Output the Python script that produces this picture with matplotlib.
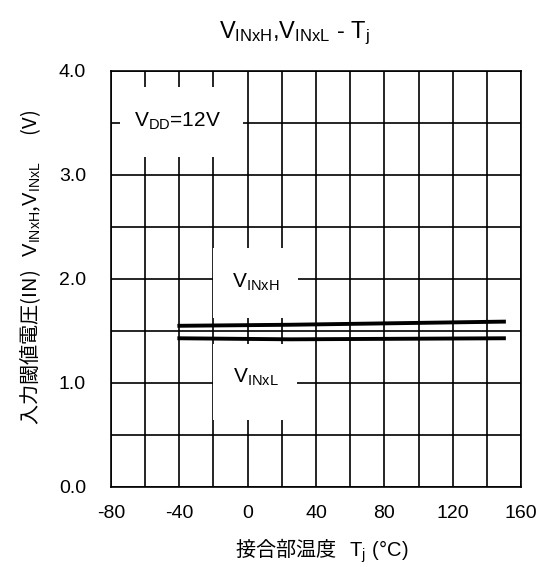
import numpy as np
import matplotlib.pyplot as plt
from matplotlib.ticker import MultipleLocator, FormatStrFormatter
from matplotlib.patches import Rectangle

plt.rcParams['font.family'] = ['Liberation Sans', 'Noto Sans CJK JP']
plt.rcParams['mathtext.fontset'] = 'custom'
plt.rcParams['mathtext.rm'] = 'Liberation Sans'
plt.rcParams['mathtext.default'] = 'rm'
plt.rcParams['axes.unicode_minus'] = False

# Datos
temp = [-40, 25, 150]
v_inxh = [1.55, 1.56, 1.59]
v_inxl = [1.43, 1.42, 1.43]

fig = plt.figure(figsize=(5.5, 5.67), dpi=100)
ax = fig.add_axes([0.2018, 0.1411, 0.7455, 0.7337])

ax.set_xlim(-80, 160)
ax.set_ylim(0, 4.0)
ax.xaxis.set_major_locator(MultipleLocator(40))
ax.xaxis.set_minor_locator(MultipleLocator(20))
ax.yaxis.set_major_locator(MultipleLocator(1.0))
ax.yaxis.set_minor_locator(MultipleLocator(0.5))
ax.yaxis.set_major_formatter(FormatStrFormatter('%.1f'))
ax.tick_params(which='both', length=0, labelsize=14)
ax.tick_params(axis='x', pad=13)
ax.tick_params(axis='y', pad=18)
ax.set_axisbelow(True)
ax.grid(True, which='both', color='black', linewidth=1.2)
for s in ax.spines.values():
    s.set_linewidth(1.2)

# Recuadros blancos detrás de las etiquetas
for (x0, y0, x1, y1) in [(-75, 3.17, -3, 3.85),
                         (-20.4, 1.625, 29.2, 2.30),
                         (-20.4, 0.644, 28.6, 1.375)]:
    ax.add_patch(Rectangle((x0, y0), x1 - x0, y1 - y0, facecolor='white',
                           edgecolor='none', zorder=1))

ax.plot(temp, v_inxh, color='black', linewidth=2.8, zorder=3)
ax.plot(temp, v_inxl, color='black', linewidth=2.8, zorder=3)

ax.text(-41.2, 3.46, r'$\mathrm{V_{DD}}$=12V', fontsize=15, ha='center', va='baseline', zorder=4)
ax.text(4.7, 1.92, r'$\mathrm{V_{INxH}}$', fontsize=15, ha='center', va='baseline', zorder=4)
ax.text(4.7, 1.00, r'$\mathrm{V_{INxL}}$', fontsize=15, ha='center', va='baseline', zorder=4)

fig.text(294 / 550, 1 - 33 / 567, r'$\mathrm{V_{INxH}}$,$\mathrm{V_{INxL}}$ - $\mathrm{T_j}$',
         fontsize=17, ha='center', va='center')
fig.text(322 / 550, 1 - 551 / 567, r'接合部温度   $\mathrm{T_j\ (°C)}$',
         family='Noto Sans CJK JP', fontsize=14.5, ha='center', va='center')
fig.text(30 / 550, 1 - 267 / 567, r'入力閾値電圧(IN)   $\mathrm{V_{INxH}}$,$\mathrm{V_{INxL}}$      (V)',
         family='Noto Sans CJK JP', fontsize=14.5, ha='center', va='center', rotation=90)

fig.savefig('out.png', dpi=100)
